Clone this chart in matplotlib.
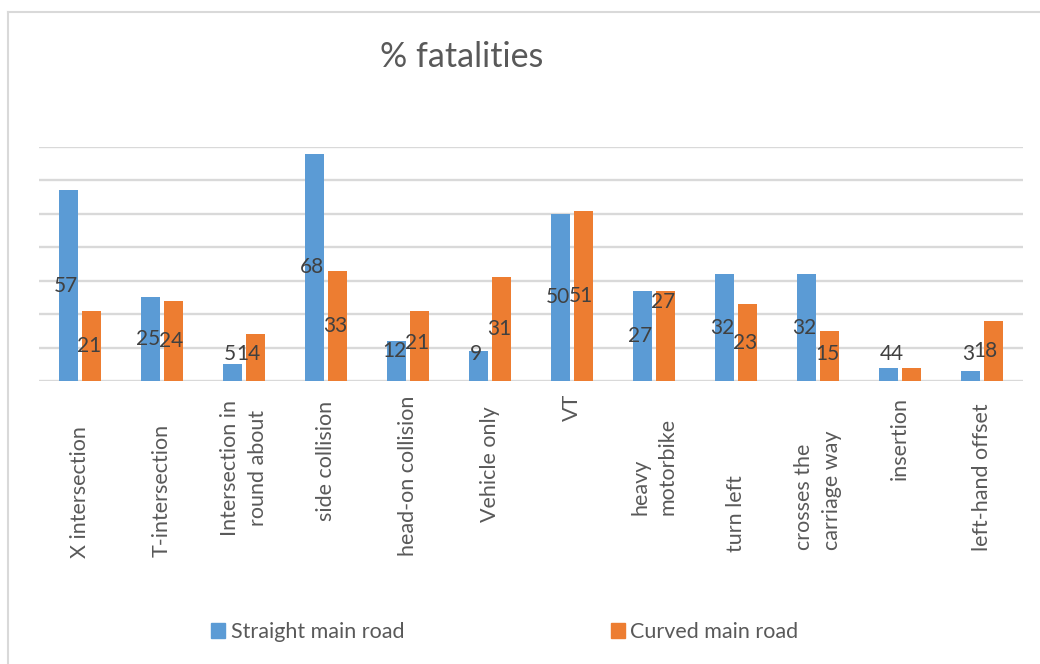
import matplotlib
matplotlib.use('Agg')
import numpy as np
import matplotlib.pyplot as plt
from matplotlib.lines import Line2D
from matplotlib.patches import Patch
from matplotlib.transforms import blended_transform_factory

# data (% fatalities)
categories = ['X intersection', 'T-intersection', 'Intersection in\nround about',
              'side collision', 'head-on collision', 'Vehicle only', 'VT',
              'heavy\nmotorbike', 'turn left', 'crosses the\ncarriage way',
              'insertion', 'left-hand offset']
straight = [57, 25, 5, 68, 12, 9, 50, 27, 32, 32, 4, 3]
curved = [21, 24, 14, 33, 21, 31, 51, 27, 23, 15, 4, 18]

blue = '#5B9BD5'
orange = '#ED7D31'
grid_c = '#D9D9D9'
text_c = '#595959'
lab_c = '#404040'
font = 'Lato'

W, H = 1040, 664
fig = plt.figure(figsize=(W / 100, H / 100), dpi=100, facecolor='w')
ax = fig.add_axes([39 / W, 1 - 381 / H, (1023 - 39) / W, (381 - 147) / H])

x = np.arange(len(categories))
bw = 0.232
off = 0.14
ax.bar(x - off, straight, bw, color=blue, zorder=3)
ax.bar(x + off, curved, bw, color=orange, zorder=3)

ax.set_xlim(-0.5, len(categories) - 0.5)
ax.set_ylim(0, 70)
ax.set_yticks(np.arange(0, 71, 10))
ax.yaxis.grid(True, color=grid_c, lw=1.7, zorder=0)
ax.tick_params(left=False, bottom=False, labelleft=False, labelbottom=False)
for s in ax.spines.values():
    s.set_visible(False)
ax.set_facecolor('none')

# data labels (excel placed some of them by hand)
y_override = {(7, 1): 23.7, (4, 0): 9.0, (4, 1): 11.4}
x_override = {(2, 1): -0.09, (10, 1): -0.18, (11, 1): -0.1}
for i in range(len(categories)):
    for j, vals in enumerate([straight, curved]):
        v = vals[i]
        ly = y_override.get((i, j), max(v / 2, 8.2))
        lx = x[i] + (off if j else -off) + x_override.get((i, j), -0.03)
        ax.text(lx, ly, str(v), ha='center', va='center', fontsize=15,
                color=lab_c, family=font, zorder=4)

# category labels, rotated
bottoms = [558, 557, 536, 521, 556, 522, 421, 515, 552, 550, 480, 551]
tr = blended_transform_factory(ax.transData, fig.transFigure)
for i, c in enumerate(categories):
    ma = 'center' if i == 2 else 'left'
    ax.text(x[i], 1 - bottoms[i] / H, c, rotation=90, ha='center', va='bottom',
            multialignment=ma, fontsize=15.5, color=text_c, family=font,
            transform=tr, linespacing=1.45)

fig.text(462 / W, 1 - 57 / H, '% fatalities', ha='center', va='center',
         fontsize=24.5, color=text_c, family=font)

handles = [Patch(color=blue), Patch(color=orange)]
fig.legend(handles, ['Straight main road', 'Curved main road'], ncol=2,
           loc='center', bbox_to_anchor=(505 / W, 1 - 632 / H), frameon=False,
           handlelength=0.65, handleheight=0.65, handletextpad=0.25,
           columnspacing=9.6, prop={'family': font, 'size': 15.5},
           labelcolor=text_c)

# chart area border
fig.add_artist(Line2D([8 / W, 8 / W], [0, 1 - 12 / H], color=grid_c, lw=1.5))
fig.add_artist(Line2D([8 / W, 1], [1 - 12 / H, 1 - 12 / H], color=grid_c, lw=1.5))

plt.savefig('out.png', dpi=100, facecolor='w')
